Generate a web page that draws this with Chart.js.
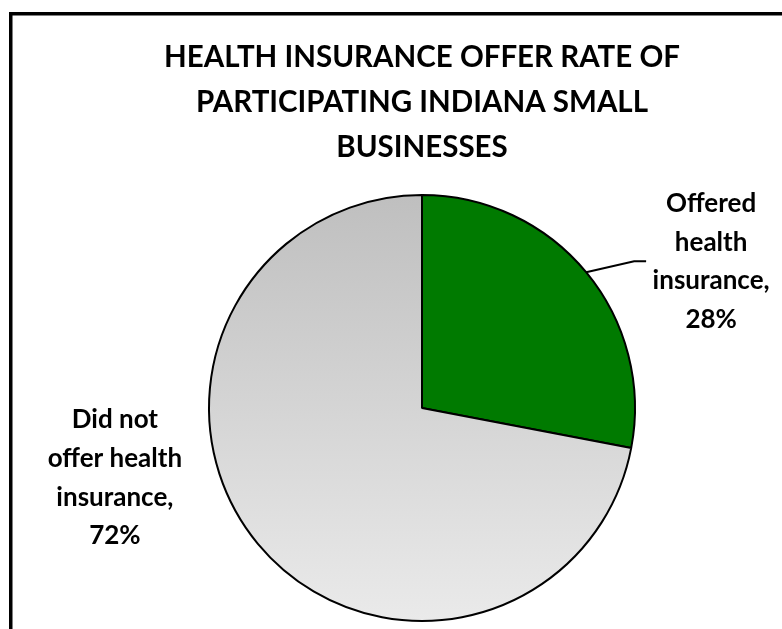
<!DOCTYPE html>
<html>
<head>
<meta charset="utf-8">
<script src="https://cdn.jsdelivr.net/npm/chart.js@4/dist/chart.umd.min.js"></script>
<style>
  html, body { margin: 0; padding: 0; background: #fff; }
  canvas { display: block; }
</style>
</head>
<body>
<canvas id="chart" width="782" height="629"></canvas>
<script>
// Survey result: share of participating small businesses offering health insurance
const categories = ['Offered health insurance', 'Did not offer health insurance'];
const shares = [28, 72];
// Category names as they are broken onto lines in the slice labels
const labelNameLines = [
  ['Offered', 'health', 'insurance,'],
  ['Did not', 'offer health', 'insurance,']
];
const titleLines = [
  'HEALTH INSURANCE OFFER RATE OF',
  'PARTICIPATING INDIANA SMALL',
  'BUSINESSES'
];

const PIE_RADIUS = 213;
const FONT = 'Lato, "Open Sans", "DejaVu Sans", sans-serif';

// Grey slice: vertical gradient, darker at the top of the pie
function sliceFill(context) {
  if (context.dataIndex === 0) return '#007a00';
  const area = context.chart.chartArea;
  if (!area) return '#d4d4d4';
  const cy = (area.top + area.bottom) / 2;
  const g = context.chart.ctx.createLinearGradient(0, cy - PIE_RADIUS, 0, cy + PIE_RADIUS);
  g.addColorStop(0, '#bfbfbf');
  g.addColorStop(1, '#eaeaea');
  return g;
}

// Slice labels (with a leader line for the small slice) and the outer frame
const sliceLabels = {
  id: 'sliceLabels',
  afterDatasetsDraw(chart) {
    const ctx = chart.ctx;
    const meta = chart.getDatasetMeta(0);
    const lineGap = 38.7;
    ctx.save();
    ctx.font = 'bold 26px ' + FONT;
    ctx.fillStyle = '#000';
    ctx.textAlign = 'center';
    ctx.textBaseline = 'middle';
    meta.data.forEach((arc, i) => {
      const p = arc.getProps(['x', 'y', 'startAngle', 'endAngle', 'outerRadius'], true);
      const mid = (p.startAngle + p.endAngle) / 2;
      const ex = p.x + Math.cos(mid) * p.outerRadius;
      const ey = p.y + Math.sin(mid) * p.outerRadius;
      let lx, ly;
      if (i === 0) {
        // leader: diagonal then short horizontal tail
        ctx.strokeStyle = '#000';
        ctx.lineWidth = 2;
        ctx.beginPath();
        ctx.moveTo(ex, ey);
        ctx.lineTo(ex + 48, ey - 11);
        ctx.lineTo(ex + 60, ey - 11);
        ctx.stroke();
        lx = ex + 125;
        ly = ey - 10.5;
      } else {
        lx = ex - 143;
        ly = ey - 66;
      }
      const lines = labelNameLines[i].concat([shares[i] + '%']);
      const n = lines.length;
      lines.forEach((t, k) => {
        ctx.fillText(t, lx, ly + (k - (n - 1) / 2) * lineGap);
      });
    });
    ctx.restore();
  },
  afterDraw(chart) {
    const ctx = chart.ctx;
    ctx.save();
    ctx.fillStyle = '#000';
    ctx.fillRect(9, 12, 3.5, chart.height);
    ctx.fillRect(9, 12, chart.width, 3.5);
    ctx.restore();
  }
};

function build() {
  new Chart(document.getElementById('chart'), {
    type: 'pie',
    data: {
      labels: categories,
      datasets: [{
        data: shares,
        backgroundColor: sliceFill,
        borderColor: '#000',
        borderWidth: 2,
        radius: PIE_RADIUS
      }]
    },
    options: {
      responsive: false,
      animation: false,
      layout: { padding: { top: 20, bottom: 0, left: 62, right: 0 } },
      plugins: {
        legend: { display: false },
        tooltip: { enabled: false },
        title: {
          display: true,
          text: titleLines,
          color: '#000',
          font: { family: FONT, size: 29.5, weight: 'bold', lineHeight: '45px' },
          padding: { top: 14.5, bottom: 17.5 }
        }
      }
    },
    plugins: [sliceLabels]
  });
}

Promise.all([
  document.fonts.load('bold 29.5px Lato'),
  document.fonts.load('bold 26px Lato')
]).then(build, build);
</script>
</body>
</html>
